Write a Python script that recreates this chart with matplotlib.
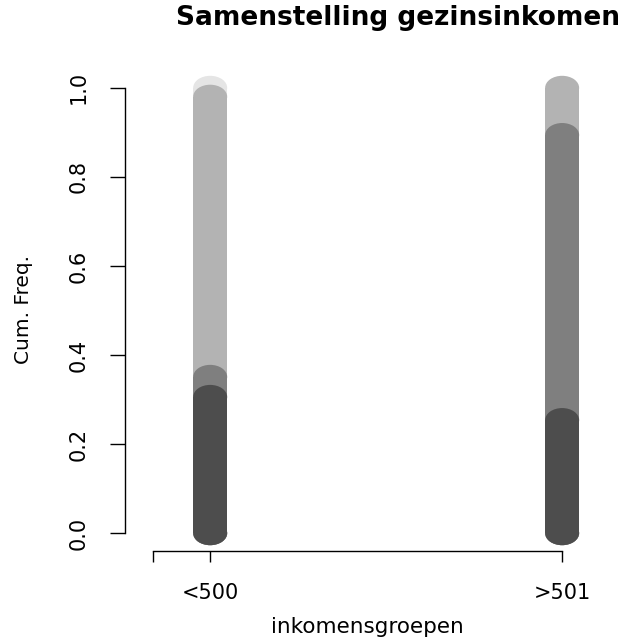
import matplotlib.pyplot as plt
import numpy as np
from matplotlib.patches import Ellipse

plt.rcParams['font.family'] = ['DejaVu Sans']

# cumulative frequencies per income group (bottom -> top)
groups = ['<500', '>501']
xpos = [1, 2]
cum_low = [0.306, 0.351, 0.980, 1.0]
cum_high = [0.254, 0.894, 1.0]
cols = ['#4d4d4d', '#7f7f7f', '#b3b3b3', '#e5e5e5']

fig = plt.figure(figsize=(6.29, 6.37), dpi=100)
ax = fig.add_axes([125/629, 1-551/637, (610-125)/629, (551-70)/637])
ax.set_xlim(0.758, 2.136)
ax.set_ylim(-0.04, 1.04)

w = 34/352.      # column width in data units
h = 24/445.      # cap height in data units
for x, cum in zip(xpos, [cum_low, cum_high]):
    # draw from top segment down so lower ones overlay
    for i in range(len(cum)-1, -1, -1):
        v = cum[i]
        c = cols[i]
        ax.add_patch(plt.Rectangle((x-w/2, 0), w, v, color=c, lw=0))
        ax.add_patch(Ellipse((x, v), w, h, color=c, lw=0))
        ax.add_patch(Ellipse((x, 0), w, h, color=c, lw=0))

for s in ['top', 'right']:
    ax.spines[s].set_visible(False)
ax.spines['left'].set_bounds(0, 1)
ax.spines['bottom'].set_bounds(0.838, 2)
ax.set_xticks([0.838] + xpos)
ax.set_xticklabels([''] + groups, fontsize=15)
ax.set_yticks(np.arange(0, 1.01, 0.2))
ax.set_yticklabels(['0.0', '0.2', '0.4', '0.6', '0.8', '1.0'], fontsize=15,
                   rotation=90, va='center')
ax.tick_params(axis='y', length=11, width=1, pad=15)
ax.tick_params(axis='x', length=8, width=1, pad=15)
for s in ['left', 'bottom']:
    ax.spines[s].set_linewidth(1)

ax.set_ylabel('Cum. Freq.', fontsize=14.5)
ax.yaxis.set_label_coords(-0.210, (551-309)/481)
ax.set_xlabel('inkomensgroepen', fontsize=15.5)
ax.xaxis.set_label_coords(0.5, -0.158)
ax.xaxis.label.set_va('center')
ax.yaxis.label.set_va('center')
fig.text(398/629, 1-18/637, 'Samenstelling gezinsinkomen', fontsize=19,
         fontweight='bold', ha='center', va='center')

fig.savefig('out.png', dpi=100)
